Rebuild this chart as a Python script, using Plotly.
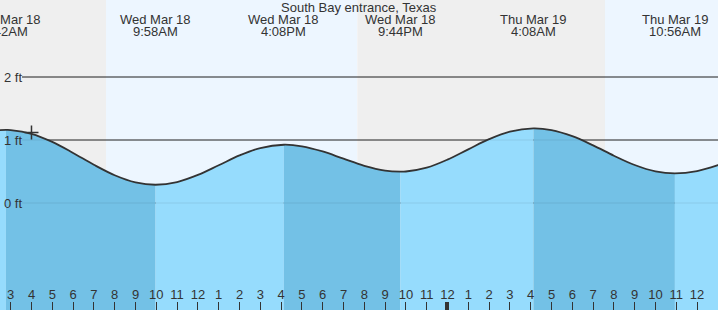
import plotly.graph_objects as go

# ---- data (hours since Wed Mar 18 00:00) ----
tide_hours = [2.0, 2.77, 3, 4, 5, 6, 7, 8, 9, 9.967, 11, 12, 13, 14, 15, 16.133, 17, 18, 19, 20, 21,
              21.733, 22, 23, 24, 25, 26, 27, 28.133, 29, 30, 31, 32, 33, 34, 34.933, 36, 37, 37.5]
tide_ft = [1.15, 1.16, 1.158, 1.099, 0.970, 0.795, 0.607, 0.441, 0.328, 0.29, 0.333, 0.446, 0.599, 0.755,
           0.873, 0.925, 0.900, 0.818, 0.703, 0.591, 0.515, 0.497, 0.500, 0.561, 0.689, 0.852, 1.013,
           1.133, 1.185, 1.157, 1.060, 0.915, 0.751, 0.603, 0.502, 0.47, 0.507, 0.600, 0.661]

ext_hours = [2.77, 9.967, 16.133, 21.733, 28.133, 34.933]
ext_kind = ["high", "low", "high", "low", "high", "low"]
ext_day = ["Wed Mar 18", "Wed Mar 18", "Wed Mar 18", "Wed Mar 18", "Thu Mar 19", "Thu Mar 19"]
ext_time = ["2:42AM", "9:58AM", "4:08PM", "9:44PM", "4:08AM", "10:56AM"]

sun_events = [7.58, 19.664, 31.57]  # sunrise, sunset, sunrise
now_hour, now_ft = 4.0, 1.12

hour_ticks = list(range(3, 38))
hour_labels = [str(h % 12 if h % 12 else 12) for h in hour_ticks]
y_grid = [0, 1, 2]
y_labels = ["0 ft", "1 ft", "2 ft"]

title = "South Bay entrance, Texas"

# ---- styling ----
X0, X1 = 2.486, 37.005
Y0, Y1 = -1.698, 3.222
DARK = "#73C1E6"
LIGHT = "#96DCFD"
NIGHT = "#EFEFEF"
DAY = "#EDF6FF"
TXT = "#333333"
FONT = "Liberation Sans, Arial, sans-serif"

fig = go.Figure()

# fills between tide turns
bounds = [X0 - 1] + ext_hours + [X1 + 1]
for i in range(len(bounds) - 1):
    a, b = bounds[i], bounds[i + 1]
    xs = [h for h in tide_hours if a <= h <= b]
    ys = [v for h, v in zip(tide_hours, tide_ft) if a <= h <= b]
    # segment color: falling (after high) dark, rising (after low) light
    if i == 0:
        col = LIGHT
    else:
        col = DARK if ext_kind[i - 1] == "high" else LIGHT
    fig.add_trace(go.Scatter(x=xs, y=[Y0 - 0.5] * len(xs), mode="lines",
                             line=dict(width=0), hoverinfo="skip", showlegend=False))
    fig.add_trace(go.Scatter(x=xs, y=ys, mode="lines", fill="tonexty", fillcolor=col,
                             line=dict(width=0, shape="spline"), hoverinfo="skip", showlegend=False))

# tide curve
fig.add_trace(go.Scatter(x=tide_hours, y=tide_ft, mode="lines",
                         line=dict(color=TXT, width=1.8, shape="spline"), showlegend=False))
# now marker
fig.add_trace(go.Scatter(x=[now_hour], y=[now_ft], mode="markers",
                         marker=dict(symbol="cross-thin", size=10, line=dict(color=TXT, width=1.5)),
                         showlegend=False))
# invisible trace for the secondary axis (midnight tick)
fig.add_trace(go.Scatter(x=[X0], y=[Y0 - 1], xaxis="x2", mode="lines", showlegend=False,
                         hoverinfo="skip"))

shapes = []
edges = [X0 - 1] + sun_events + [X1 + 1]
for i in range(len(edges) - 1):
    shapes.append(dict(type="rect", xref="x", yref="paper", x0=edges[i], x1=edges[i + 1], y0=0, y1=1,
                       fillcolor=NIGHT if i % 2 == 0 else DAY, line=dict(width=0), layer="below"))
for g in y_grid:
    shapes.append(dict(type="line", xref="paper", yref="y", x0=22 / 718, x1=1, y0=g, y1=g,
                       line=dict(color="#2a2a2a", width=1), layer="below"))
    shapes.append(dict(type="line", xref="paper", yref="y", x0=22 / 718, x1=1, y0=g, y1=g,
                       line=dict(color="rgba(0,0,0,0.08)", width=1), layer="above"))

annotations = [dict(text=title, x=0.5, y=1 - 7.5 / 310, xref="paper", yref="paper",
                    showarrow=False, xanchor="center", yanchor="middle",
                    font=dict(size=13, color=TXT, family=FONT))]
for h, d, t in zip(ext_hours, ext_day, ext_time):
    annotations.append(dict(text=d, x=h, y=1 - 19.5 / 310, xref="x", yref="paper", showarrow=False,
                            xanchor="center", yanchor="middle", font=dict(size=13, color=TXT, family=FONT)))
    annotations.append(dict(text=t, x=h, y=1 - 31.5 / 310, xref="x", yref="paper", showarrow=False,
                            xanchor="center", yanchor="middle", font=dict(size=13, color=TXT, family=FONT)))
for g, lab in zip(y_grid, y_labels):
    annotations.append(dict(text=lab, x=2 / 718, y=g, xref="paper", yref="y", showarrow=False,
                            xanchor="left", yanchor="middle", font=dict(size=13, color=TXT, family=FONT)))

fig.update_layout(
    width=718, height=310, margin=dict(l=0, r=0, t=0, b=0),
    paper_bgcolor="white", plot_bgcolor="white",
    shapes=shapes, annotations=annotations, showlegend=False,
    xaxis=dict(range=[X0, X1], showgrid=False, zeroline=False, showline=False,
               tickvals=hour_ticks, ticktext=hour_labels, ticks="inside", ticklen=8,
               tickwidth=1, tickcolor=TXT, ticklabelposition="inside",
               tickfont=dict(size=13, color=TXT, family=FONT)),
    xaxis2=dict(range=[X0, X1], overlaying="x", anchor="y", side="bottom", showgrid=False,
                zeroline=False, showline=False, tickvals=[24], ticks="inside", ticklen=8,
                tickwidth=4, tickcolor=TXT, showticklabels=False),
    yaxis=dict(range=[Y0, Y1], showgrid=False, zeroline=False, showline=False,
               showticklabels=False),
)

fig.write_html("out.html")
